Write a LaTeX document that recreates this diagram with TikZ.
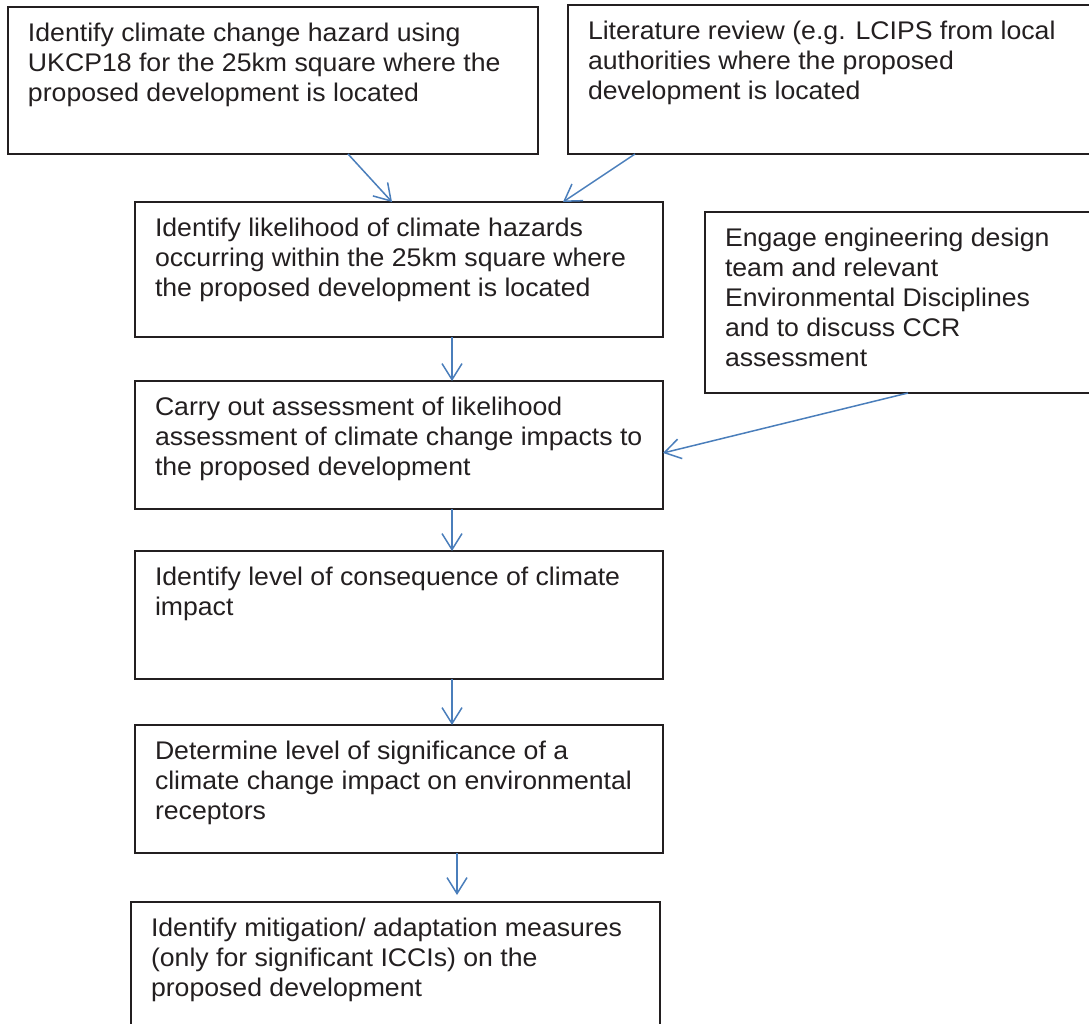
\documentclass[tikz,border=0pt]{standalone}
\usepackage{fontspec}
\setmainfont{Liberation Sans}[FakeStretch=1.045]
\usetikzlibrary{arrows.meta,calc}
\definecolor{boxc}{HTML}{231F20}
\definecolor{arrc}{HTML}{4A7EBB}
\tikzset{
  box/.style={draw=boxc, line width=2pt, anchor=north west, inner sep=0pt, outer sep=0pt,
    text=boxc, font=\fontsize{25.5}{30}\selectfont},
  arr/.style={draw=arrc, line width=1.5pt, -{Straight Barb[length=16pt,width=20pt]}}
}
\newcommand\bx[6]{%
  \node[box] (#1) at (#2,#3) {\hspace*{20pt}\parbox[c][#5pt][t]{\dimexpr #4pt-20pt\relax}{\raggedright\vspace*{13.5pt}\strut #6}};}
\begin{document}
\begin{tikzpicture}[x=1pt,y=-1pt]
\useasboundingbox (0,0) rectangle (1089,1024);
\clip (0,0) rectangle (1089,1024);
\bx{b1}{8}{7}{530}{147}{Identify climate change hazard using\\UKCP18 for the 25km square where the\\proposed development is located}
\bx{b2}{568}{5}{600}{149}{Literature review (e.g. LCIPS from local\\authorities where the proposed\\development is located}
\bx{b3}{135}{202}{528}{135}{Identify likelihood of climate hazards\\occurring within the 25km square where\\the proposed development is located}
\bx{bR}{705}{212}{500}{181}{Engage engineering design\\team and relevant\\Environmental Disciplines\\and to discuss CCR\\assessment}
\bx{b4}{135}{381}{528}{128}{Carry out assessment of likelihood\\assessment of climate change impacts to\\the proposed development}
\bx{b5}{135}{551}{528}{128}{Identify level of consequence of climate\\impact}
\bx{b6}{135}{725}{528}{128}{Determine level of significance of a\\climate change impact on environmental\\receptors}
\bx{b7}{131}{902}{529}{200}{Identify mitigation/ adaptation measures\\(only for significant ICCIs) on the\\proposed development}
\draw[arr] ([xshift=340pt]b1.south west) -- ([xshift=257pt]b3.north west);
\draw[arr] ([xshift=67pt]b2.south west) -- ([xshift=428pt]b3.north west);
\draw[arr] ([xshift=317pt]b3.south west) -- ([xshift=317pt]b4.north west);
\draw[arr] ([xshift=203pt]bR.south west) -- ([yshift=-72pt]b4.north east);
\draw[arr] ([xshift=317pt]b4.south west) -- ([xshift=317pt]b5.north west);
\draw[arr] ([xshift=317pt]b5.south west) -- ([xshift=317pt]b6.north west);
\draw[arr] ([xshift=322pt]b6.south west) -- ([xshift=326pt,yshift=7pt]b7.north west);
\end{tikzpicture}
\end{document}
